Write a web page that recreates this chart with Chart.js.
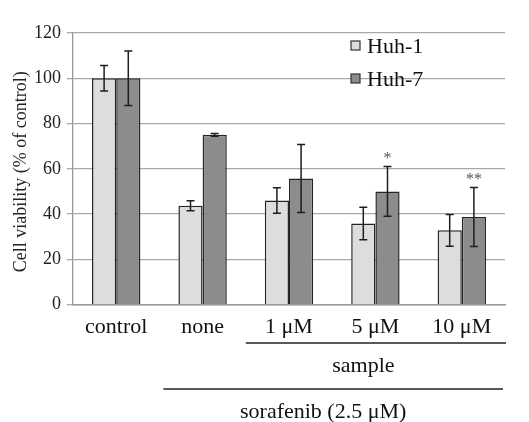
<!DOCTYPE html>
<html>
<head>
<meta charset="utf-8">
<script src="https://cdn.jsdelivr.net/npm/chart.js@4"></script>
<style>
  html, body { margin: 0; padding: 0; background: #fff; }
  #wrap { width: 529px; height: 422px; }
</style>
</head>
<body>
<div id="wrap"><canvas id="js--chart"></canvas></div>
<script>
// data
const categories = ["control", "none", "1 μM", "5 μM", "10 μM"];
const seriesNames = ["Huh-1", "Huh-7"];
const huh1 = [100, 43.7, 46, 35.8, 32.8];
const huh1Err = [5.6, 2.2, 5.6, 7.2, 7.0];
const huh7 = [100, 75, 55.7, 50, 38.7];
const huh7Err = [12, 0.6, 15, 11, 13];
const huh7Marks = ["", "", "", "*", "**"];
const yTicks = [0, 20, 40, 60, 80, 100, 120];
const yTitle = "Cell viability (% of control)";

const serif = "'Liberation Serif', 'Times New Roman', serif";
const errors = [huh1Err, huh7Err];
const marks = [null, huh7Marks];

const errorBars = {
    id: "errorBars",
    afterDatasetsDraw(chart) {
        const ctx = chart.ctx;
        const y = chart.scales.y;
        ctx.save();
        ctx.strokeStyle = "#1e1e1e";
        ctx.lineWidth = 1.5;
        chart.data.datasets.forEach(function(ds, d) {
            const meta = chart.getDatasetMeta(d);
            meta.data.forEach(function(bar, i) {
                const v = ds.data[i];
                const e = errors[d][i];
                const top = y.getPixelForValue(v + e);
                const bot = y.getPixelForValue(v - e);
                ctx.beginPath();
                ctx.moveTo(bar.x, top); ctx.lineTo(bar.x, bot);
                ctx.moveTo(bar.x - 4, top); ctx.lineTo(bar.x + 4, top);
                ctx.moveTo(bar.x - 4, bot); ctx.lineTo(bar.x + 4, bot);
                ctx.stroke();
                if (marks[d] && marks[d][i]) {
                    ctx.fillStyle = "#555";
                    ctx.font = "16px " + serif;
                    ctx.textAlign = "center";
                    ctx.textBaseline = "middle";
                    ctx.fillText(marks[d][i], bar.x, top - 8);
                }
            });
        });
        ctx.restore();
    }
};

const extras = {
    id: "extras",
    afterDraw(chart) {
        const ctx = chart.ctx;
        const x = chart.scales.x;
        const area = chart.chartArea;
        const step = (area.right - area.left) / categories.length;
        ctx.save();
        // y axis title
        ctx.save();
        ctx.translate(21, (area.top + area.bottom) / 2 + 3);
        ctx.rotate(-Math.PI / 2);
        ctx.font = "18px " + serif;
        ctx.fillStyle = "#222";
        ctx.textAlign = "center";
        ctx.textBaseline = "middle";
        ctx.fillText(yTitle, 0, 0);
        ctx.restore();
        // legend
        ctx.font = "22px " + serif;
        ctx.textBaseline = "middle";
        ctx.textAlign = "left";
        chart.data.datasets.forEach(function(ds, d) {
            const lx = area.left + 278;
            const ly = area.top + 13 + d * 33;
            ctx.fillStyle = ds.backgroundColor;
            ctx.fillRect(lx, ly - 5, 9, 9);
            ctx.strokeStyle = "#333";
            ctx.lineWidth = 1.2;
            ctx.strokeRect(lx, ly - 5, 9, 9);
            ctx.fillStyle = "#111";
            ctx.fillText(seriesNames[d], lx + 16, ly + 1);
        });
        // group brackets
        ctx.strokeStyle = "#222";
        ctx.lineWidth = 1.5;
        ctx.fillStyle = "#111";
        ctx.textAlign = "center";
        const sampleLeft = x.getPixelForValue(2) - step / 2;
        ctx.beginPath();
        ctx.moveTo(sampleLeft, 343);
        ctx.lineTo(area.right + 1, 343);
        ctx.stroke();
        ctx.fillText("sample", x.getPixelForValue(3) - 12, 366);
        const soraLeft = x.getPixelForValue(1) - step / 2 + 4;
        ctx.beginPath();
        ctx.moveTo(soraLeft, 389);
        ctx.lineTo(area.right - 2, 389);
        ctx.stroke();
        ctx.fillText("sorafenib (2.5 μM)", (x.getPixelForValue(1) + x.getPixelForValue(4)) / 2 - 9, 412);
        ctx.restore();
    }
};

new Chart(document.getElementById("js--chart"), {
    type: "bar",
    data: {
        labels: categories,
        datasets: [
            {
                label: seriesNames[0],
                data: huh1,
                backgroundColor: "#dcdddc",
                borderColor: "#262626",
                borderWidth: 1.5,
                categoryPercentage: 0.56,
                barPercentage: 1.0
            },
            {
                label: seriesNames[1],
                data: huh7,
                backgroundColor: "#8c8c8c",
                borderColor: "#262626",
                borderWidth: 1.5,
                categoryPercentage: 0.56,
                barPercentage: 1.0
            }
        ]
    },
    options: {
        responsive: true,
        maintainAspectRatio: false,
        animation: false,
        layout: { padding: { top: 33, right: 24, bottom: 81, left: 28 } },
        plugins: {
            legend: { display: false },
            tooltip: { enabled: false }
        },
        scales: {
            x: {
                grid: { display: false },
                border: { display: true, color: "#999", width: 1.5 },
                ticks: {
                    color: "#111",
                    font: { family: serif, size: 22 },
                    padding: 1,
                    maxRotation: 0
                }
            },
            y: {
                min: 0,
                max: 120,
                afterBuildTicks: function(scale) {
                    scale.ticks = yTicks.map(function(v) { return { value: v }; });
                },
                grid: { color: "#a8a8a8", lineWidth: 1.3, tickLength: 6 },
                border: { display: true, color: "#999", width: 1.3 },
                ticks: {
                    color: "#222",
                    font: { family: serif, size: 18 },
                    padding: 6
                },
                title: { display: false }
            }
        }
    },
    plugins: [errorBars, extras]
});
</script>
</body>
</html>
